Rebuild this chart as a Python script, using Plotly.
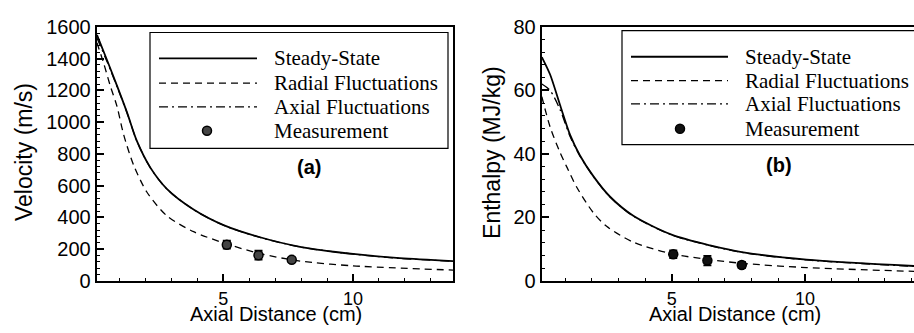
import plotly.graph_objects as go

W, H = 914, 333

# ---------------- data ----------------
# Panel (a): velocity (m/s) vs axial distance (cm)
x_steady_a = [0.14, 0.53, 0.91, 1.3, 1.68, 2.19, 2.83, 3.86, 5.04, 6.42, 7.96, 10.0, 11.8, 13.85]
v_steady_a = [1550, 1390, 1230, 1060, 880, 715, 580, 450, 350, 275, 215, 170, 143, 125]
x_radial_a = [0.14, 0.4, 0.65, 0.91, 1.17, 1.55, 2.06, 2.83, 3.86, 5.04, 6.42, 7.96, 10.0, 13.85]
v_radial_a = [1500, 1370, 1230, 1100, 920, 730, 560, 410, 310, 238, 172, 125, 95, 68]
x_axial_a = [0.14, 0.53, 0.91, 1.3, 1.68, 2.19, 2.83, 3.86, 5.04, 6.42, 7.96, 10.0, 11.8, 13.85]
v_axial_a = [1530, 1380, 1225, 1058, 879, 714, 579, 449, 349, 274, 214, 169, 142, 124]
x_meas_a = [5.14, 6.36, 7.64]
v_meas_a = [228, 162, 133]
e_meas_a = [25, 28, 12]

# Panel (b): enthalpy (MJ/kg) vs axial distance (cm)
x_steady_b = [0.13, 0.44, 0.81, 1.19, 1.56, 2.06, 2.69, 3.56, 5.02, 6.44, 7.69, 10.06, 14.09]
h_steady_b = [70.5, 65, 55.5, 46, 39.5, 33, 26.5, 20.5, 14.5, 11.2, 9.0, 6.7, 4.7]
x_radial_b = [0.13, 0.44, 0.81, 1.06, 1.44, 2.06, 2.56, 3.56, 5.02, 6.44, 7.69, 10.06, 14.09]
h_radial_b = [58, 48.5, 40.5, 36, 29.5, 21.5, 17.2, 12.2, 8.5, 6.7, 5.5, 4.2, 3.0]
x_axial_b = [0.13, 0.44, 0.81, 1.19, 1.56, 2.06, 2.69, 3.56, 5.02, 6.44, 7.69, 10.06, 14.09]
h_axial_b = [62, 60, 54, 45.5, 39.3, 32.9, 26.4, 20.4, 14.4, 11.1, 8.9, 6.6, 4.6]
x_meas_b = [5.06, 6.34, 7.63]
h_meas_b = [8.4, 6.4, 5.0]
e_meas_b = [1.2, 1.5, 1.0]

legend_labels = ["Steady-State", "Radial Fluctuations", "Axial Fluctuations", "Measurement"]
x_tick_vals = [5, 10]
y_ticks_a = [0, 200, 400, 600, 800, 1000, 1200, 1400, 1600]
y_ticks_b = [0, 20, 40, 60, 80]

# ---------------- styles ----------------
SANS = "Arial, Liberation Sans, sans-serif"
SERIF = "Times New Roman, Liberation Serif, serif"
DASH = "7px,5px"
DASHDOT = "9px,4px,2px,4px"

fig = go.Figure()

def add_panel(xa, ya, xs, ys, xr, yr, xx, yx, xm, ym, em, mfill):
    fig.add_trace(go.Scatter(x=xx, y=yx, mode="lines", xaxis=xa, yaxis=ya,
                             line=dict(color="black", width=1.3, dash=DASHDOT, shape="spline", smoothing=0.8),
                             showlegend=False, hoverinfo="skip"))
    fig.add_trace(go.Scatter(x=xr, y=yr, mode="lines", xaxis=xa, yaxis=ya,
                             line=dict(color="black", width=1.3, dash=DASH, shape="spline", smoothing=0.8),
                             showlegend=False, hoverinfo="skip"))
    fig.add_trace(go.Scatter(x=xs, y=ys, mode="lines", xaxis=xa, yaxis=ya,
                             line=dict(color="black", width=1.8, shape="spline", smoothing=0.8),
                             showlegend=False, hoverinfo="skip"))
    fig.add_trace(go.Scatter(x=xm, y=ym, mode="markers", xaxis=xa, yaxis=ya,
                             marker=dict(size=9, color=mfill, line=dict(color="black", width=1.5)),
                             error_y=dict(type="data", array=em, visible=True, color="black",
                                          thickness=1.8, width=4),
                             showlegend=False, hoverinfo="skip"))

add_panel("x", "y", x_steady_a, v_steady_a, x_radial_a, v_radial_a, x_axial_a, v_axial_a,
          x_meas_a, v_meas_a, e_meas_a, "#444444")
add_panel("x2", "y2", x_steady_b, h_steady_b, x_radial_b, h_radial_b, x_axial_b, h_axial_b,
          x_meas_b, h_meas_b, e_meas_b, "#111111")

ydom = [1 - 289 / H, 1 - 17 / H]

def xaxis(domain, rng):
    return dict(domain=domain, range=rng, tickmode="array", tickvals=x_tick_vals,
                ticks="inside", ticklen=7, tickwidth=1.5, tickcolor="black",
                minor=dict(dtick=1, tick0=0, ticks="inside", ticklen=3, tickwidth=1, tickcolor="black"),
                showline=True, linecolor="black", linewidth=2, mirror=True,
                showgrid=False, zeroline=False,
                tickfont=dict(family=SANS, size=18, color="black"))

def yaxis(anchor, rng, vals, minor_dt, mirror):
    return dict(domain=ydom, range=rng, anchor=anchor, tickmode="array", tickvals=vals,
                ticks="inside", ticklen=7, tickwidth=1.5, tickcolor="black",
                minor=dict(dtick=minor_dt, tick0=0, ticks="inside", ticklen=3, tickwidth=1, tickcolor="black"),
                showline=True, linecolor="black", linewidth=2, mirror=mirror,
                showgrid=False, zeroline=False,
                tickfont=dict(family=SANS, size=20, color="black"))

fig.update_layout(
    width=W, height=H, autosize=False,
    margin=dict(l=0, r=0, t=0, b=0, pad=0),
    paper_bgcolor="white", plot_bgcolor="white",
    showlegend=False,
    xaxis=dict(**xaxis([96.7 / W, 453 / W], [0.13, 13.85]), anchor="y"),
    yaxis=yaxis("x", [0, 1600], y_ticks_a, 40, True),
    xaxis2=dict(**xaxis([541.7 / W, 1.0], [0.125, 14.09]), anchor="y2"),
    yaxis2=yaxis("x2", [0, 80], y_ticks_b, 4, False),
)

def px(x):
    return x / W

def py(y):
    return 1 - y / H

shapes = []
annotations = []

# axis titles and panel tags
for cx, cy, txt, ang, sz in [(24, 151, "Velocity (m/s)", -90, 23), (492, 152, "Enthalpy (MJ/kg)", -90, 23),
                             (276, 324.5, "Axial Distance (cm)", 0, 20), (735, 324.5, "Axial Distance (cm)", 0, 20)]:
    annotations.append(dict(x=px(cx), y=py(cy), xref="paper", yref="paper", text=txt, textangle=ang,
                            showarrow=False, xanchor="center", yanchor="middle",
                            font=dict(family=SANS, size=sz, color="black")))
for cx, cy, txt in [(309, 167, "<b>(a)</b>"), (779, 165, "<b>(b)</b>")]:
    annotations.append(dict(x=px(cx), y=py(cy), xref="paper", yref="paper", text=txt,
                            showarrow=False, xanchor="center", yanchor="middle",
                            font=dict(family=SANS, size=20, color="black")))

# manual legends
def legend(box, rows, lx0, lx1, tx, mx, mfill):
    bx0, by0, bx1, by1 = box
    shapes.append(dict(type="rect", xref="paper", yref="paper", x0=px(bx0), x1=px(bx1),
                       y0=py(by1), y1=py(by0), line=dict(color="black", width=1.2),
                       fillcolor="white", layer="below"))
    styles = [dict(dash="solid", width=1.8), dict(dash=DASH, width=1.3), dict(dash=DASHDOT, width=1.3)]
    for i, st in enumerate(styles):
        shapes.append(dict(type="line", xref="paper", yref="paper", x0=px(lx0), x1=px(lx1),
                           y0=py(rows[i]), y1=py(rows[i]),
                           line=dict(color="black", width=st["width"], dash=st["dash"])))
    shapes.append(dict(type="circle", xref="paper", yref="paper", xsizemode="pixel", ysizemode="pixel",
                       xanchor=px(mx), yanchor=py(rows[3]), x0=-4.5, x1=4.5, y0=-4.5, y1=4.5,
                       fillcolor=mfill, line=dict(color="black", width=1.5)))
    for i, lab in enumerate(legend_labels):
        annotations.append(dict(x=px(tx), y=py(rows[i]), xref="paper", yref="paper", text=lab,
                                showarrow=False, xanchor="left", yanchor="middle",
                                font=dict(family=SERIF, size=21, color="black")))

legend((150, 23, 448, 147), [50.7, 77.3, 102.7, 128.3], 159, 257, 272, 207, "#444444")
legend((622, 21, 930, 143), [49, 74.5, 99.5, 126], 631, 728, 743, 680, "#111111")

fig.update_layout(shapes=shapes, annotations=annotations)

fig.write_html("out.html")
